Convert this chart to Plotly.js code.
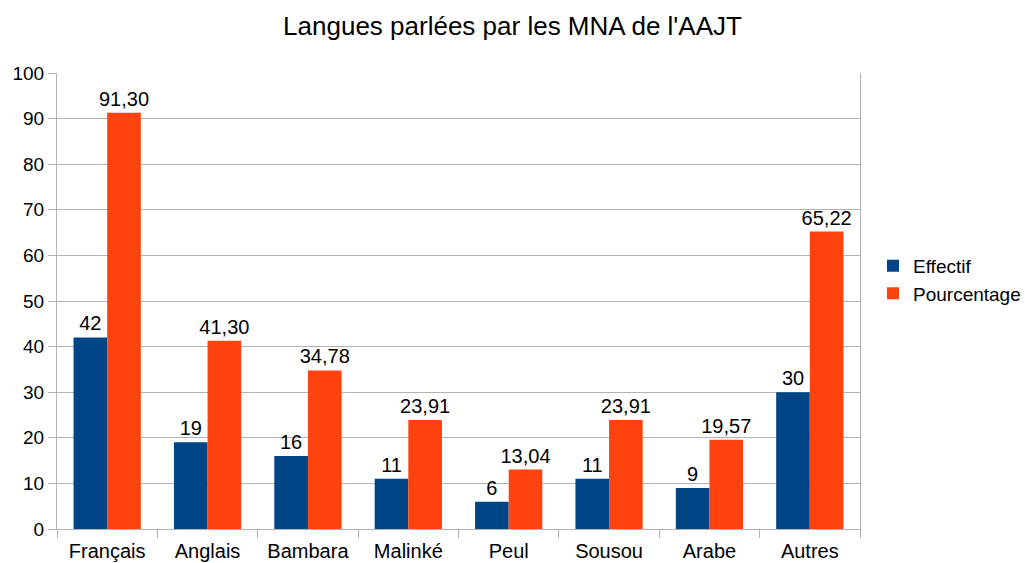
<!DOCTYPE html>
<html>
<head>
<meta charset="utf-8">
<script src="https://cdn.plot.ly/plotly-3.0.1.min.js"></script>
<style>html,body{margin:0;padding:0;background:#fff;}#chart{width:1025px;height:563px;}</style>
</head>
<body>
<div id="chart"></div>
<script>
const categories = ["Français", "Anglais", "Bambara", "Malinké", "Peul", "Sousou", "Arabe", "Autres"];
const effectif = [42, 19, 16, 11, 6, 11, 9, 30];
const pourcentage = [91.30, 41.30, 34.78, 23.91, 13.04, 23.91, 19.57, 65.22];
const effectifLabels = ["42", "19", "16", "11", "6", "11", "9", "30"];
const pourcentageLabels = ["91,30", "41,30", "34,78", "23,91", "13,04", "23,91", "19,57", "65,22"];

const font = "Liberation Sans, Arial, sans-serif";
const labelFont = {family: font, size: 20, color: "#000"};
const traces = [
  {type: "bar", name: "Effectif", x: categories, y: effectif, text: effectifLabels,
   textposition: "outside", cliponaxis: false, constraintext: "none", textfont: labelFont,
   marker: {color: "#004586"}, hoverinfo: "x+y"},
  {type: "bar", name: "Pourcentage", x: categories, y: pourcentage, text: pourcentageLabels,
   textposition: "outside", cliponaxis: false, constraintext: "none", textfont: labelFont,
   marker: {color: "#ff420e"}, hoverinfo: "x+y"}
];
const layout = {
  width: 1025, height: 563,
  margin: {l: 57, r: 165, t: 73, b: 34, pad: 0},
  paper_bgcolor: "#fff", plot_bgcolor: "#fff",
  font: {family: font, size: 20, color: "#000"},
  title: {text: "Langues parlées par les MNA de l'AAJT", font: {family: font, size: 26, color: "#000"},
          x: 0.5, xanchor: "center", y: 0.954, yanchor: "middle"},
  barmode: "group", bargap: 0.33, bargroupgap: 0,
  xaxis: {type: "category", showgrid: false, showline: true, linecolor: "#b3b3b3", linewidth: 1,
          ticks: "outside", tickson: "boundaries", ticklen: 8, tickcolor: "#b3b3b3",
          ticklabelstandoff: 4, automargin: false,
          tickfont: {family: font, size: 20, color: "#000"}, zeroline: false},
  yaxis: {range: [0, 100], dtick: 10, showgrid: true, gridcolor: "#b3b3b3", gridwidth: 1,
          showline: true, mirror: true, linecolor: "#b3b3b3", linewidth: 1,
          ticks: "outside", ticklen: 8, tickcolor: "#b3b3b3", automargin: false,
          tickfont: {family: font, size: 19, color: "#000"}, zeroline: false},
  legend: {xref: "container", yref: "container", x: 0.8517, xanchor: "left", y: 0.503, yanchor: "middle",
           font: {family: font, size: 19, color: "#000"}, bgcolor: "rgba(0,0,0,0)",
           itemwidth: 30, tracegroupgap: 4},
  showlegend: true
};
Plotly.newPlot("chart", traces, layout, {displayModeBar: false, staticPlot: true});
</script>
</body>
</html>
